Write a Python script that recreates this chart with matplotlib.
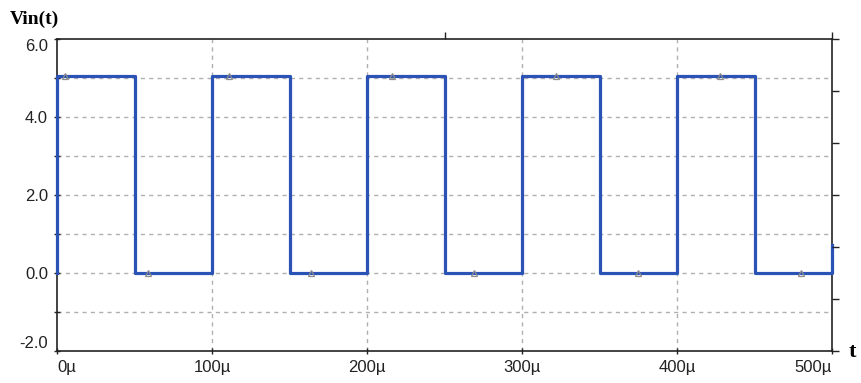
import matplotlib.pyplot as plt
import numpy as np

# Dados do sinal (tempo em microssegundos)
t_bordas = [0, 0, 50, 50, 100, 100, 150, 150, 200, 200, 250, 250,
            300, 300, 350, 350, 400, 400, 450, 450, 500, 500]
v_sinal = [0, 5.05, 5.05, 0, 0, 5.05, 5.05, 0, 0, 5.05, 5.05, 0,
           0, 5.05, 5.05, 0, 0, 5.05, 5.05, 0, 0, 0.72]

# Marcadores (triangulos) do simulador
t_marc = [5, 59, 111, 164, 216, 269, 322, 375, 428, 480]
v_marc = [5.05, 0, 5.05, 0, 5.05, 0, 5.05, 0, 5.05, 0]

x_ticks = [0, 100, 200, 300, 400, 500]
x_labels = ['0µ', '100µ', '200µ', '300µ', '400µ', '500µ']
y_ticks = [-2.0, 0.0, 2.0, 4.0, 6.0]
y_labels = ['-2.0', '0.0', '2.0', '4.0', '6.0']

fig = plt.figure(figsize=(8.61, 3.83), dpi=100)
ax = fig.add_axes([57/861, 1 - 350.5/383, 775/861, 311.5/383])

cor_grade = '#b0b0b0'
for y in range(-1, 6):
    ax.axhline(y, color=cor_grade, ls=(0, (3, 3)), lw=1, zorder=1)
for x in x_ticks[1:-1]:
    ax.axvline(x, color=cor_grade, ls=(0, (3, 3)), lw=1, zorder=1)

ax.plot(t_bordas, v_sinal, color='#2b52b5', lw=2.3, zorder=3, clip_on=False)
ax.plot(t_marc, v_marc, ls='none', marker='^', ms=5, mfc='none',
        mec='#8c8c8c', mew=0.9, zorder=4)

ax.set_xlim(0, 500)
ax.set_ylim(-2, 6)

ax.set_xticks(x_ticks)
ax.set_xticklabels(x_labels, fontsize=12, family='Liberation Sans',
                   color='#222222')
ax.set_yticks(y_ticks)
ax.set_yticklabels(y_labels, fontsize=12, family='Liberation Sans',
                   color='#222222')
ax.set_yticks([-1, 1, 3, 5], minor=True)
ax.tick_params(axis='both', which='both', direction='inout', length=5,
               width=1, color='#222222', pad=4)
ax.tick_params(axis='y', which='minor', length=4)

# rotulos extremos ficam dentro do eixo
rot = ax.get_yticklabels()
rot[0].set_verticalalignment('bottom')
rot[-1].set_verticalalignment('top')
rot_x = ax.get_xticklabels()
rot_x[0].set_horizontalalignment('left')
rot_x[-1].set_horizontalalignment('right')

for s in ax.spines.values():
    s.set_color('#222222')
    s.set_linewidth(1.2)

# eixo direito com 6 divisoes
ax_dir = ax.twinx()
ax_dir.set_ylim(-2, 6)
ax_dir.set_yticks(np.linspace(-2, 6, 7))
ax_dir.set_yticklabels([])
ax_dir.tick_params(axis='y', direction='out', length=5, width=1, color='#222222')
for s in ax_dir.spines.values():
    s.set_visible(False)

# marca no topo
ax_top = ax.secondary_xaxis('top')
ax_top.set_xticks([250, 500])
ax_top.set_xticklabels([])
ax_top.tick_params(direction='out', length=5, width=1, color='#222222')
ax_top.spines['top'].set_visible(False)

fig.text(10/861, 1 - 19/383, 'Vin(t)', fontsize=14, fontweight='bold',
         family='Liberation Serif', va='center', ha='left')
fig.text(852/861, 1 - 352/383, 't', fontsize=16, fontweight='bold',
         family='Liberation Serif', va='center', ha='center')

fig.savefig('out.png', dpi=100)
